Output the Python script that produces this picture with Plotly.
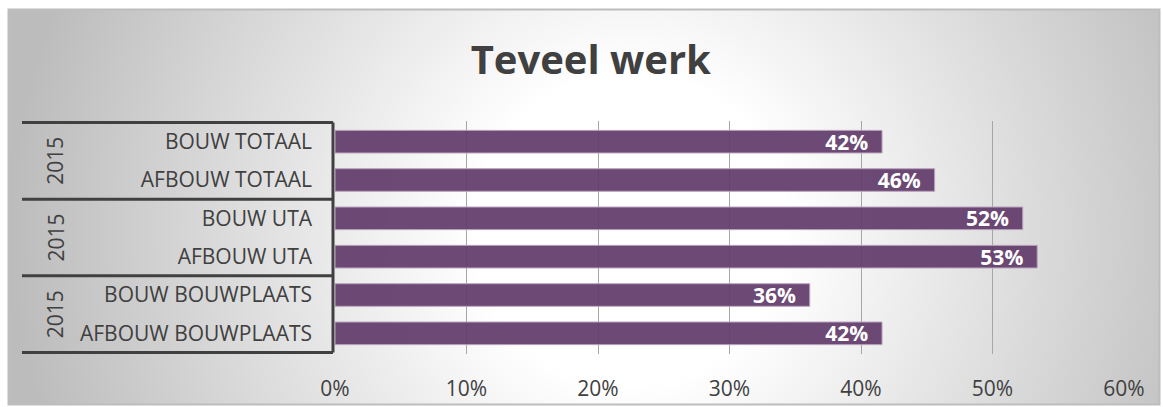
import base64
import plotly.graph_objects as go

# ---- data ----
categories = ["BOUW TOTAAL", "AFBOUW TOTAAL", "BOUW UTA", "AFBOUW UTA",
              "BOUW BOUWPLAATS", "AFBOUW BOUWPLAATS"]
values = [0.416, 0.456, 0.523, 0.534, 0.361, 0.416]
group_labels = ["2015", "2015", "2015"]
group_centers = [0.5, 2.5, 4.5]
group_bounds = [-0.5, 1.5, 3.5, 5.5]
tick_vals = [0, 0.1, 0.2, 0.3, 0.4, 0.5, 0.6]
title_text = "Teveel werk"

W, H = 1163, 407
ML, MR, MT, MB = 335, 39, 121, 53
PW = W - ML - MR
PH = H - MT - MB

TEXT = "#404040"
FONT = "Open Sans"

svg = f'''<svg xmlns="http://www.w3.org/2000/svg" width="{W}" height="{H}" viewBox="0 0 {W} {H}" preserveAspectRatio="none">
<defs>
<radialGradient id="g" gradientUnits="userSpaceOnUse" cx="630" cy="230" r="620">
<stop offset="0" stop-color="#ffffff"/>
<stop offset="0.25" stop-color="#ffffff"/>
<stop offset="1" stop-color="#bcbcbc"/>
</radialGradient>
</defs>
<rect x="8.5" y="9.5" width="1151" height="395" fill="url(#g)" stroke="#bdbdbd" stroke-width="2"/>
</svg>'''
src = "data:image/svg+xml;base64," + base64.b64encode(svg.encode()).decode()

fig = go.Figure()
fig.add_trace(go.Bar(
    y=categories, x=values, orientation="h",
    width=0.59,
    marker=dict(color="rgba(98,60,106,0.93)", line=dict(color="#b9a3bd", width=1)),
    texttemplate="%{x:.0%}\u00a0\u00a0",
    textposition="inside", insidetextanchor="end", constraintext="none",
    textfont=dict(family=FONT, size=21, color="white", weight="bold"),
    hoverinfo="skip",
))

fig.add_layout_image(dict(
    source=src, xref="paper", yref="paper",
    x=-ML / PW, y=1 + MT / PH, sizex=W / PW, sizey=H / PH,
    xanchor="left", yanchor="top", sizing="stretch", layer="below",
))

line_col = "#404040"
x_left = (22 - ML) / PW
for b in group_bounds:
    fig.add_shape(type="line", xref="paper", yref="y", x0=x_left, x1=-2 / PW,
                  y0=b, y1=b, line=dict(color=line_col, width=3))
fig.add_shape(type="line", xref="paper", yref="y", x0=-2 / PW, x1=-2 / PW,
              y0=group_bounds[0], y1=group_bounds[-1], line=dict(color=line_col, width=3))

for lab, c in zip(group_labels, group_centers):
    fig.add_annotation(text=lab, xref="paper", yref="y", x=(39 - ML) / PW, y=c,
                       textangle=-90, showarrow=False,
                       font=dict(family=FONT, size=21, color=TEXT))

fig.update_layout(
    width=W, height=H,
    margin=dict(l=ML, r=MR, t=MT, b=MB, pad=0, autoexpand=False),
    paper_bgcolor="white", plot_bgcolor="rgba(0,0,0,0)",
    showlegend=False,
    title=dict(text=f"<b>{title_text}</b>", x=0.508, xanchor="center", y=1 - 60 / H,
               yanchor="middle", font=dict(family=FONT, size=40, color=TEXT)),
    bargap=0.41,
)
fig.update_xaxes(
    range=[0, 0.6], tickvals=tick_vals, tickformat=".0%", automargin=False,
    showgrid=True, gridcolor="#a6a6a6", gridwidth=1, zeroline=False,
    showline=False, ticks="", ticklabelstandoff=20,
    tickfont=dict(family=FONT, size=21, color=TEXT), fixedrange=True,
)
fig.update_yaxes(
    categoryorder="array", categoryarray=categories, autorange="reversed",
    automargin=False,
    showgrid=False, zeroline=False, showline=False, ticks="",
    ticklabelstandoff=22,
    tickfont=dict(family=FONT, size=21, color=TEXT), fixedrange=True,
)

fig.write_html("out.html")
